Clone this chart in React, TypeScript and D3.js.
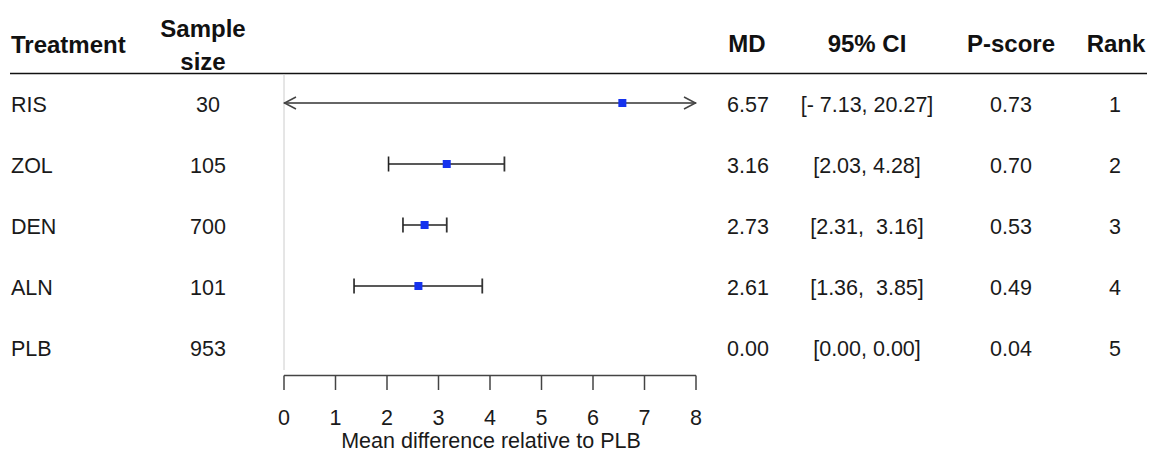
import React from "react";
import * as d3 from "d3";

const treatments = ["RIS", "ZOL", "DEN", "ALN", "PLB"];
const sampleSizes = [30, 105, 700, 101, 953];
const md = [6.57, 3.16, 2.73, 2.61, 0.0];
const ciLow = [-7.13, 2.03, 2.31, 1.36, 0.0];
const ciHigh = [20.27, 4.28, 3.16, 3.85, 0.0];
const ciLabels = ["[- 7.13, 20.27]", "[2.03, 4.28]", "[2.31,  3.16]", "[1.36,  3.85]", "[0.00, 0.00]"];
const pScores = ["0.73", "0.70", "0.53", "0.49", "0.04"];
const ranks = [1, 2, 3, 4, 5];
const xTicks = [0, 1, 2, 3, 4, 5, 6, 7, 8];

const W = 1152;
const H = 454;
const font = "'Liberation Sans', Arial, Helvetica, sans-serif";

export default function App() {
  const x = d3.scaleLinear().domain([0, 8]).range([284, 696]);
  const y = d3.scalePoint<string>().domain(treatments).range([103, 347]);
  const [d0, d1] = x.domain();
  const textCol = "#1a1a1a";
  const fs = 21.5;
  const hfs = 24;

  return (
    <svg width={W} height={H} style={{ position: "absolute", left: 0, top: 0, background: "#fff" }} fontFamily={font}>
      {/* header */}
      <g fontWeight="bold" fontSize={hfs} fill="#111">
        <text x={11} y={53}>Treatment</text>
        <text x={203} y={37} textAnchor="middle">Sample</text>
        <text x={203} y={70} textAnchor="middle">size</text>
        <text x={747} y={52} textAnchor="middle">MD</text>
        <text x={867} y={52} textAnchor="middle">95% CI</text>
        <text x={1011} y={52} textAnchor="middle">P-score</text>
        <text x={1116} y={52} textAnchor="middle">Rank</text>
      </g>
      <line x1={10} x2={1147} y1={73.5} y2={73.5} stroke="#111" strokeWidth={1.3} />
      {/* reference line at 0 */}
      <line x1={x(0)} x2={x(0)} y1={74} y2={370} stroke="#ccc" strokeWidth={1} />

      {/* rows */}
      {treatments.map((t, i) => {
        const yy = y(t)!;
        const lo = ciLow[i];
        const hi = ciHigh[i];
        const hasCI = hi > lo;
        const loClip = lo < d0;
        const hiClip = hi > d1;
        const xl = x(Math.max(lo, d0));
        const xh = x(Math.min(hi, d1));
        const clipped = loClip || hiClip;
        return (
          <g key={t}>
            <g fontSize={fs} fill={textCol}>
              <text x={11} y={yy + 8.5}>{t}</text>
              <text x={208} y={yy + 8.5} textAnchor="middle">{sampleSizes[i]}</text>
              <text x={748} y={yy + 8.5} textAnchor="middle">{md[i].toFixed(2)}</text>
              <text x={867} y={yy + 8.5} textAnchor="middle" style={{ whiteSpace: "pre" }}>{ciLabels[i]}</text>
              <text x={1011} y={yy + 8.5} textAnchor="middle">{pScores[i]}</text>
              <text x={1115} y={yy + 8.5} textAnchor="middle">{ranks[i]}</text>
            </g>
            {hasCI && (
              <g fill="none">
                <line x1={xl} x2={xh} y1={yy} y2={yy} stroke={clipped ? "#666" : "#222"} strokeWidth={clipped ? 2.2 : 1.5} />
                {loClip ? (
                  <path d={`M${xl + 12},${yy - 6} L${xl + 0.5},${yy} L${xl + 12},${yy + 6}`} stroke="#444" strokeWidth={1.5} />
                ) : (
                  <line x1={xl} x2={xl} y1={yy - 7.5} y2={yy + 7.5} stroke="#222" strokeWidth={1.6} />
                )}
                {hiClip ? (
                  <path d={`M${xh - 12},${yy - 6} L${xh - 0.5},${yy} L${xh - 12},${yy + 6}`} stroke="#444" strokeWidth={1.5} />
                ) : (
                  <line x1={xh} x2={xh} y1={yy - 7.5} y2={yy + 7.5} stroke="#333" strokeWidth={1.8} />
                )}
              </g>
            )}
            {hasCI && (
              <rect x={x(md[i]) - 4} y={yy - 4} width={8} height={8} fill="#1532ee" />
            )}
          </g>
        );
      })}

      {/* axis */}
      <g stroke="#444" strokeWidth={1.5}>
        <line x1={x(d0)} x2={x(d1)} y1={375.5} y2={375.5} />
        {xTicks.map((v) => (
          <line key={v} x1={x(v)} x2={x(v)} y1={375.5} y2={390} />
        ))}
      </g>
      <g fontSize={fs} fill={textCol} textAnchor="middle">
        {xTicks.map((v) => (
          <text key={v} x={x(v)} y={425}>{v}</text>
        ))}
        <text x={(x(1) + x(7)) / 2 + 1} y={448}>Mean difference relative to PLB</text>
      </g>
    </svg>
  );
}
